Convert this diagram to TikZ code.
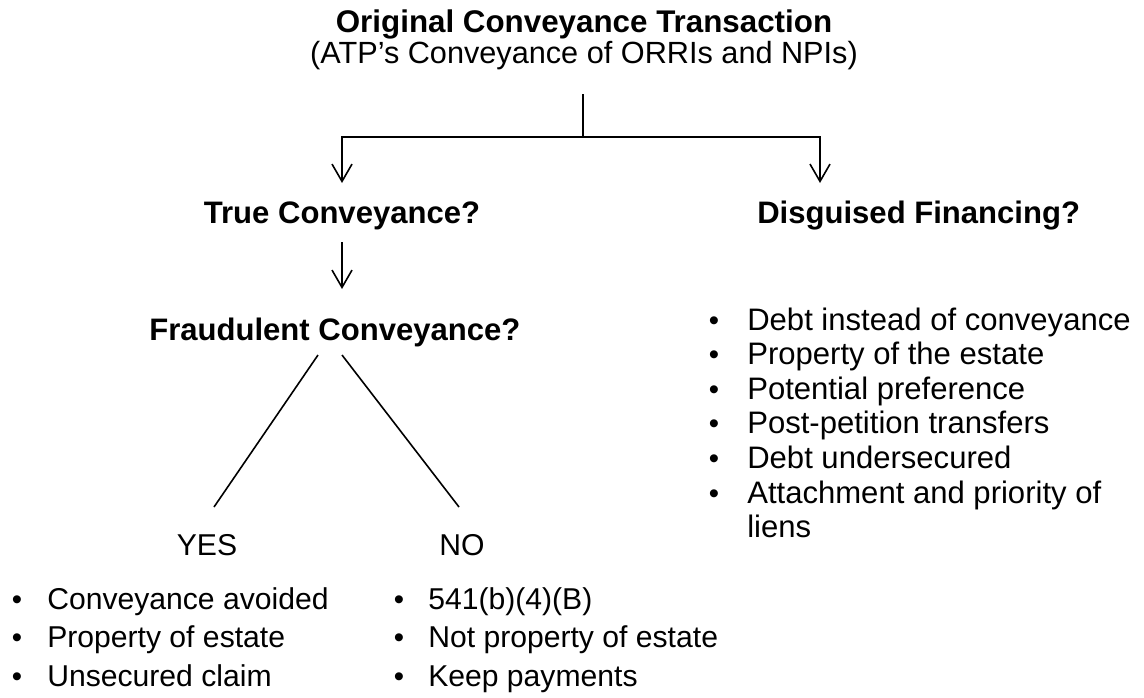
\documentclass[tikz,border=0pt]{standalone}
\usepackage{fontspec}
\setmainfont{Liberation Sans}
\usetikzlibrary{arrows.meta}
\begin{document}
\begin{tikzpicture}[x=0.75pt,y=-0.75pt,
  conn/.style={line width=1.2pt,black},
  arr/.style={conn,-{Straight Barb[length=13pt,width=15pt,line width=1.2pt]}},
  head/.style={font=\fontsize{23.3}{28}\selectfont\bfseries,inner sep=0pt},
  sub/.style={font=\fontsize{23}{28}\selectfont,inner sep=0pt},
  item/.style={font=\fontsize{22.6}{27}\selectfont,inner sep=0pt,anchor=base west},
  itemR/.style={font=\fontsize{23.3}{28}\selectfont,inner sep=0pt,anchor=base west},
  bul/.style={font=\fontsize{22}{27}\selectfont,inner sep=0pt,anchor=base}]
\useasboundingbox (0,0) rectangle (1144,697);
% titles
\node[head,font=\fontsize{23.5}{28}\selectfont\bfseries,anchor=base] (title) at (584,32) {Original Conveyance Transaction};
\node[sub,anchor=base] (subtitle) at (584,63) {(ATP’s Conveyance of ORRIs and NPIs)};
\node[head,anchor=base] (true) at (342,223) {True Conveyance?};
\node[head,anchor=base west] (disg) at (757,223) {Disguised Financing?};
\node[head,anchor=base west] (fraud) at (149,340) {Fraudulent Conveyance?};
\node[sub,font=\fontsize{22.6}{27}\selectfont,anchor=base] (yes) at (207,555) {YES};
\node[sub,font=\fontsize{22.6}{27}\selectfont,anchor=base] (no) at (462,555) {NO};
% connectors
\coordinate (top) at (583,94);
\coordinate (split) at (583,137);
\coordinate (lcorner) at (342,137);
\coordinate (rcorner) at (820,137);
\coordinate (ltip) at (342,183);
\coordinate (rtip) at (820,183);
\coordinate (tbot) at (342,242);
\coordinate (ftop) at (342,289);
\coordinate (fl) at (318,355);
\coordinate (fr) at (342,355);
\coordinate (yl) at (214,507);
\coordinate (nr) at (459,507);
\draw[conn] (top) -- (split);
\draw[arr] (split) -- (lcorner) -- (ltip);
\draw[arr] (split) -- (rcorner) -- (rtip);
\draw[arr] (tbot) -- (ftop);
\draw[conn] (fl) -- (yl);
\draw[conn] (fr) -- (nr);
% right list
\foreach \t [count=\i] in {Debt instead of conveyance,Property of the estate,Potential preference,Post-petition transfers,Debt undersecured,Attachment and priority of}{
  \node[bul] (rb\i) at (714,330+34.6*\i-34.6) {•};
  \node[itemR] (ri\i) at (747,330+34.6*\i-34.6) {\t};
}
\node[itemR] (ri7) at (747,537.6) {liens};
% left list
\foreach \t [count=\i] in {Conveyance avoided,Property of estate,Unsecured claim}{
  \node[bul] (lb\i) at (17,609+38.5*\i-38.5) {•};
  \node[item] (li\i) at (47,609+38.5*\i-38.5) {\t};
}
% middle list
\foreach \t [count=\i] in {541(b)(4)(B),Not property of estate,Keep payments}{
  \node[bul] (mb\i) at (399,609+38.5*\i-38.5) {•};
  \node[item] (mi\i) at (428,609+38.5*\i-38.5) {\t};
}
\end{tikzpicture}
\end{document}
